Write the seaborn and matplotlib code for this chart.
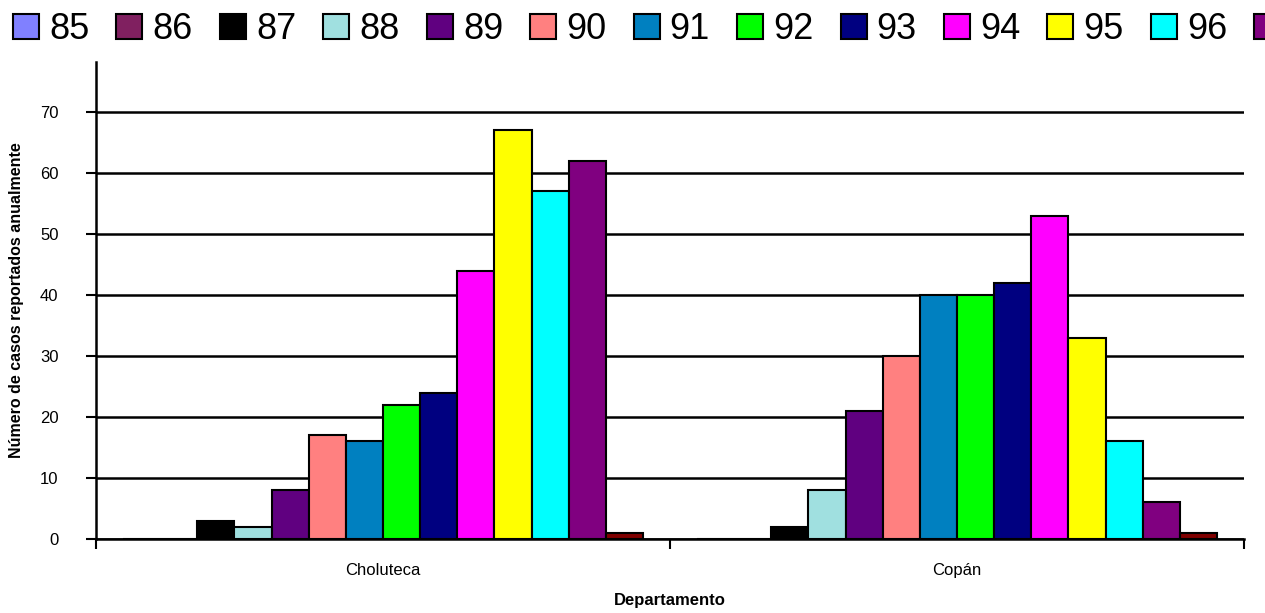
import matplotlib
matplotlib.use("Agg")
import matplotlib.pyplot as plt
from matplotlib.patches import Patch
from matplotlib.ticker import FixedLocator, MultipleLocator
import seaborn as sns
import pandas as pd

# Reported cases per year, by department
departamentos = ["Choluteca", "Copán"]
anios = ["85", "86", "87", "88", "89", "90", "91", "92", "93", "94", "95", "96", "97", "98"]
casos_choluteca = [0, 0, 3, 2, 8, 17, 16, 22, 24, 44, 67, 57, 62, 1]
casos_copan = [0, 0, 2, 8, 21, 30, 40, 40, 42, 53, 33, 16, 6, 1]
colores = ["#8080FF", "#802060", "#000000", "#A0E0E0", "#600080", "#FF8080",
           "#0080C0", "#00FF00", "#000080", "#FF00FF", "#FFFF00", "#00FFFF",
           "#800080", "#800000"]

df = pd.DataFrame({
    "Departamento": [d for d in departamentos for _ in anios],
    "Año": anios * len(departamentos),
    "Casos": casos_choluteca + casos_copan,
})

sns.set_theme(style="white")
plt.rcParams["font.family"] = ["Liberation Sans", "DejaVu Sans"]
plt.rcParams.update({"text.color": "black", "axes.labelcolor": "black",
                     "xtick.color": "black", "ytick.color": "black"})

fig = plt.figure(figsize=(12.65, 6.13), dpi=100)
ax = fig.add_axes([96 / 1265, 1 - 539 / 613, (1244 - 96) / 1265, (539 - 62) / 613])

sns.barplot(data=df, x="Departamento", y="Casos", hue="Año", hue_order=anios,
            palette=colores, width=0.906, saturation=1, errorbar=None,
            edgecolor="black", linewidth=1.5, legend=False, ax=ax, zorder=3)

ax.set_xlim(-0.5, 1.5)
ax.set_ylim(0, 78.2)
ax.yaxis.set_major_locator(MultipleLocator(10))
ax.yaxis.grid(True, color="black", linewidth=1.8, zorder=0)
ax.set_axisbelow(True)

for s in ["top", "right"]:
    ax.spines[s].set_visible(False)
for s in ["left", "bottom"]:
    ax.spines[s].set_color("black")
    ax.spines[s].set_linewidth(1.8)

ax.tick_params(axis="y", which="major", direction="out", length=7, width=1.5,
               labelsize=12, pad=20, left=True)
ax.xaxis.set_minor_locator(FixedLocator([-0.5, 0.5, 1.5]))
ax.tick_params(axis="x", which="major", length=0, labelsize=12, pad=17)
ax.tick_params(axis="x", which="minor", direction="out", length=7, width=1.5,
               bottom=True)

ax.set_xlabel("Departamento", fontsize=12, fontweight="bold", labelpad=11)
ax.set_ylabel("Número de casos reportados anualmente", fontsize=11.5,
              fontweight="bold")
ax.yaxis.set_label_coords((24 - 96) / 1148, 0.5)

handles = [Patch(facecolor=c, edgecolor="black", linewidth=1.5) for c in colores]
fig.legend(handles, anios, loc="upper left", bbox_to_anchor=(13 / 1265, 1 - 12 / 613),
           bbox_transform=fig.transFigure, ncol=len(anios), frameon=False,
           fontsize=26, handlelength=0.72, handleheight=0.72, handletextpad=0.28,
           columnspacing=0.75, borderaxespad=0, borderpad=0)

fig.savefig("out.png", dpi=100)
